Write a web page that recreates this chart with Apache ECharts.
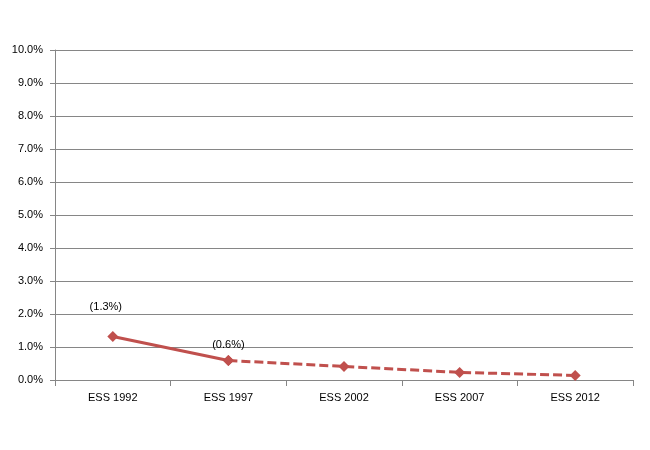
<!DOCTYPE html>
<html><head><meta charset="utf-8">
<script src="https://cdn.jsdelivr.net/npm/echarts@6/dist/echarts.min.js"></script>
<style>html,body{margin:0;padding:0;background:#fff}#c{width:650px;height:450px}</style>
</head><body><div id="c"></div>
<script>
var categories = ['ESS 1992','ESS 1997','ESS 2002','ESS 2007','ESS 2012'];
var values = [1.32, 0.59, 0.41, 0.23, 0.14];
var pointLabels = ['(1.3%)','(0.6%)','','',''];
var solidCount = 2; // first two points joined by a solid line
var yTicks = {min:0, max:10, interval:1};

var solidData = values.map(function(v,i){ return i < solidCount ? v : '-'; });
var dashedData = values.map(function(v,i){ return i >= solidCount-1 ? v : '-'; });

var labelOffsets = [[-7,-13],[0,0]];
var solidSeriesData = solidData.map(function(v,i){
  if (v === '-') return v;
  return {value:v, label:{show:!!pointLabels[i], formatter:pointLabels[i], position:'top', offset:labelOffsets[i]}};
});

var gray = '#868686';
var red = '#C0504D';
var font = 'Liberation Sans';
var chart = echarts.init(document.getElementById('c'), null, {renderer:'canvas'});
chart.setOption({
  animation:false,
  grid:{left:55, right:17, top:50, bottom:70},
  xAxis:{
    type:'category', data:categories, boundaryGap:true,
    axisLine:{lineStyle:{color:gray, width:1}},
    axisTick:{show:true, interval:0, length:6, lineStyle:{color:gray}},
    axisLabel:{color:'#000', fontFamily:font, fontSize:11, margin:12, interval:0}
  },
  yAxis:{
    type:'value', min:yTicks.min, max:yTicks.max, interval:yTicks.interval,
    axisLine:{show:true, lineStyle:{color:gray}},
    axisTick:{show:true, length:5, lineStyle:{color:gray}},
    splitLine:{lineStyle:{color:gray, width:1}},
    axisLabel:{color:'#000', fontFamily:font, fontSize:11, margin:12,
      formatter:function(v){return v.toFixed(1)+'%';}}
  },
  series:[
    {type:'line', data:dashedData, symbol:'diamond', symbolSize:11,
     lineStyle:{color:red, width:3, type:[9,4]}, itemStyle:{color:red}, z:2},
    {type:'line', data:solidSeriesData, symbol:'diamond', symbolSize:11,
     lineStyle:{color:red, width:3}, itemStyle:{color:red},
     label:{color:'#000', fontFamily:font, fontSize:11}, z:3}
  ]
});
</script></body></html>
